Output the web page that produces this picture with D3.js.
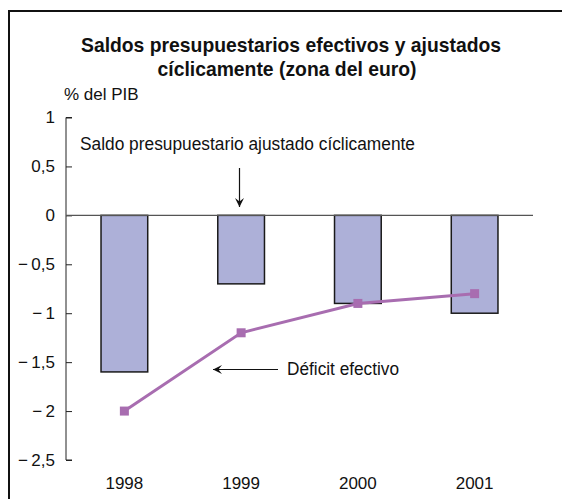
<!DOCTYPE html>
<html>
<head>
<meta charset="utf-8">
<script src="https://cdn.jsdelivr.net/npm/d3@7"></script>
<style>
  body { margin: 0; background: #fff; }
  text { font-family: "Liberation Sans", Arial, sans-serif; fill: #111; }
</style>
</head>
<body>
<svg width="562" height="499"></svg>
<script>
// data
const years = ["1998", "1999", "2000", "2001"];
const ajustado = [-1.6, -0.7, -0.9, -1.0];
const efectivo = [-2.0, -1.2, -0.9, -0.8];
const yTicks = [1, 0.5, 0, -0.5, -1, -1.5, -2, -2.5];

const svg = d3.select("svg");

// frame (only left + top edges are inside the picture)
svg.append("path")
    .attr("d", "M9,499 V11 H562")
    .attr("fill", "none")
    .attr("stroke", "#111")
    .attr("stroke-width", 2);

const x = d3.scaleBand()
    .domain(years)
    .range([66, 533])
    .paddingInner(0.6)
    .paddingOuter(0.3);

const y = d3.scaleLinear()
    .domain([-2.5, 1])
    .range([460, 117.5]);

const fmt = v => {
    const s = String(Math.abs(v)).replace(".", ",");
    return v < 0 ? "\u2212\u2009" + s : s;
};

// title
const title = svg.append("text")
    .attr("text-anchor", "middle")
    .style("font-weight", "bold")
    .style("font-size", "20.5px");
title.append("tspan").attr("x", 291).attr("y", 52)
    .attr("textLength", 420).attr("lengthAdjust", "spacingAndGlyphs")
    .text("Saldos presupuestarios efectivos y ajustados");
title.append("tspan").attr("x", 287).attr("y", 76)
    .attr("textLength", 259).attr("lengthAdjust", "spacingAndGlyphs")
    .text("cíclicamente (zona del euro)");

svg.append("text")
    .attr("x", 64).attr("y", 100)
    .style("font-size", "17px")
    .text("% del PIB");

// y axis
const yAxis = d3.axisRight(y)
    .tickValues(yTicks)
    .tickSize(6)
    .tickFormat("");
const ya = svg.append("g")
    .attr("transform", "translate(66,0)")
    .call(yAxis);
ya.select(".domain").attr("stroke", "#222").attr("d", `M6,${y(1)}H0V${y(-2.5)}H6`);
ya.selectAll(".tick line").attr("stroke", "#222");

svg.append("g").selectAll("text")
    .data(yTicks)
    .join("text")
    .attr("x", 55)
    .attr("y", d => y(d))
    .attr("dy", "0.35em")
    .attr("text-anchor", "end")
    .style("font-size", "17px")
    .text(fmt);

// bars
svg.append("g").selectAll("rect")
    .data(ajustado)
    .join("rect")
    .attr("x", (d, i) => x(years[i]))
    .attr("width", x.bandwidth())
    .attr("y", y(0))
    .attr("height", d => y(d) - y(0))
    .attr("fill", "#adb0d8")
    .attr("stroke", "#1a1a1a")
    .attr("stroke-width", 1.5);

// zero line
svg.append("line")
    .attr("x1", 66).attr("x2", 533)
    .attr("y1", y(0)).attr("y2", y(0))
    .attr("stroke", "#555")
    .attr("stroke-width", 1.2);

// x labels
svg.append("g").selectAll("text")
    .data(years)
    .join("text")
    .attr("x", d => x(d) + x.bandwidth() / 2)
    .attr("y", 489)
    .attr("text-anchor", "middle")
    .style("font-size", "17px")
    .text(d => d);

// line
const cx = i => x(years[i]) + x.bandwidth() / 2;
svg.append("path")
    .datum(efectivo)
    .attr("fill", "none")
    .attr("stroke", "#a86db0")
    .attr("stroke-width", 3)
    .attr("d", d3.line().x((d, i) => cx(i)).y(d => y(d)));

svg.append("g").selectAll("rect")
    .data(efectivo)
    .join("rect")
    .attr("x", (d, i) => cx(i) - 4.5)
    .attr("y", d => y(d) - 4.5)
    .attr("width", 9)
    .attr("height", 9)
    .attr("fill", "#a86db0");

// annotations
svg.append("defs").append("marker")
    .attr("id", "arr")
    .attr("viewBox", "0 0 10 10")
    .attr("refX", 10).attr("refY", 5)
    .attr("markerWidth", 9).attr("markerHeight", 9)
    .attr("markerUnits", "userSpaceOnUse")
    .attr("orient", "auto")
    .append("path")
    .attr("d", "M0,0 L10,5 L0,10 L4,5 Z")
    .attr("fill", "#111");

svg.append("text")
    .attr("x", 80).attr("y", 150)
    .attr("textLength", 335).attr("lengthAdjust", "spacingAndGlyphs")
    .style("font-size", "17.5px")
    .text("Saldo presupuestario ajustado cíclicamente");
svg.append("line")
    .attr("x1", 239.5).attr("x2", 239.5)
    .attr("y1", 168).attr("y2", 207)
    .attr("stroke", "#111").attr("stroke-width", 1.2)
    .attr("marker-end", "url(#arr)");

svg.append("text")
    .attr("x", 287).attr("y", 375)
    .attr("textLength", 112).attr("lengthAdjust", "spacingAndGlyphs")
    .style("font-size", "17.5px")
    .text("Déficit efectivo");
svg.append("line")
    .attr("x1", 278).attr("x2", 213)
    .attr("y1", 369.5).attr("y2", 369.5)
    .attr("stroke", "#111").attr("stroke-width", 1.2)
    .attr("marker-end", "url(#arr)");
</script>
</body>
</html>
